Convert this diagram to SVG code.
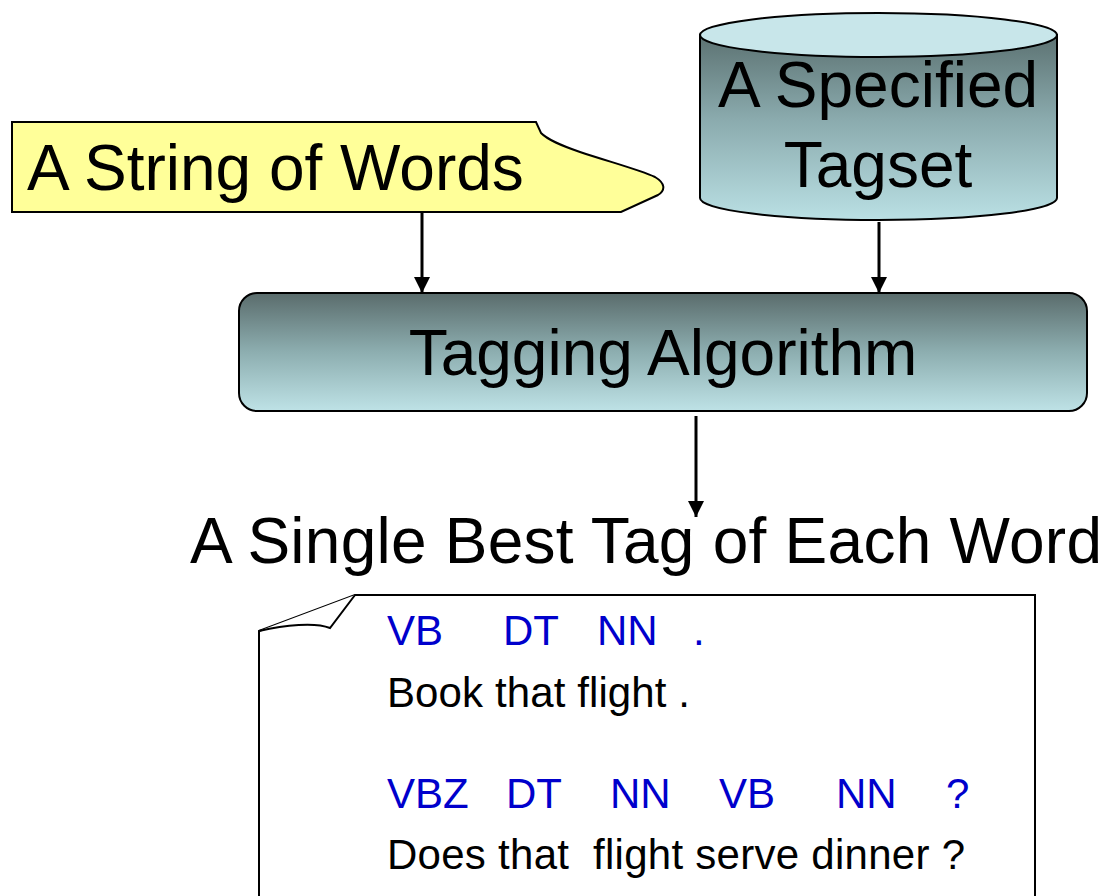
<svg xmlns="http://www.w3.org/2000/svg" width="1106" height="896" viewBox="0 0 1106 896">
<defs>
<linearGradient id="gBody" x1="0" y1="0" x2="0" y2="1">
<stop offset="0" stop-color="#5C7272"/>
<stop offset="0.45" stop-color="#8AAAAD"/>
<stop offset="1" stop-color="#BAE0E4"/>
</linearGradient>
<linearGradient id="gBox" x1="0" y1="0" x2="0" y2="1">
<stop offset="0" stop-color="#5A6C6C"/>
<stop offset="0.5" stop-color="#8DAEB0"/>
<stop offset="1" stop-color="#BEE2E6"/>
</linearGradient>
<marker id="arr" markerWidth="16" markerHeight="16" refX="16" refY="8" orient="auto" markerUnits="userSpaceOnUse" viewBox="0 0 16 16">
<path d="M0,0 L16,8 L0,16 Z" fill="#000"/>
</marker>
</defs>
<style>
.big{font-family:"Liberation Sans",Arial,sans-serif;font-size:64px;fill:#000}
.tag{font-family:"Liberation Sans",Arial,sans-serif;font-size:42px;fill:#0000CC}
.txt{font-family:"Liberation Sans",Arial,sans-serif;font-size:42px;fill:#000}
.edge{stroke:#000;stroke-width:3;fill:none}
</style>
<rect width="1106" height="896" fill="#fff"/>
<g id="words">
<path d="M12,122 H536 L541,133 C548,140 560,145 580,152 C610,162 640,170 655,177 C665,183 666,190 658,195 L621,212 H12 Z" fill="#FFFF99" stroke="#000" stroke-width="2"/>
<text class="big" x="27" y="190">A String of Words</text>
</g>
<g id="tagset">
<path d="M700,35 V198 A178.5,22 0 0 0 1057,198 V35 Z" fill="url(#gBody)" stroke="#000" stroke-width="2"/>
<ellipse cx="878.5" cy="35" rx="178.5" ry="22" fill="#C8E6EA" stroke="#000" stroke-width="2"/>
<text class="big" x="878" y="107" text-anchor="middle">A Specified</text>
<text class="big" x="878" y="187" text-anchor="middle">Tagset</text>
</g>
<g id="algorithm">
<rect x="239" y="293" width="848" height="118" rx="18" fill="url(#gBox)" stroke="#000" stroke-width="2"/>
<text class="big" x="663" y="375" text-anchor="middle">Tagging Algorithm</text>
</g>
<g id="output">
<text class="big" x="190" y="563" textLength="912">A Single Best Tag of Each Word</text>
</g>
<g id="document">
<path d="M259,896 V631 L355,595 H1035 V896" fill="#fff" stroke="#000" stroke-width="2"/>
<path d="M259,631 C285,625 315,622 330,628 L355,595" fill="#fff" stroke="#000" stroke-width="2"/>
<text class="tag" y="645"><tspan x="387">VB</tspan><tspan x="503">DT</tspan><tspan x="597">NN</tspan><tspan x="693">.</tspan></text>
<text class="txt" x="387" y="707" textLength="303">Book that flight .</text>
<text class="tag" y="808"><tspan x="387">VBZ</tspan><tspan x="506">DT</tspan><tspan x="610">NN</tspan><tspan x="719">VB</tspan><tspan x="836">NN</tspan><tspan x="946">?</tspan></text>
<text class="txt" x="387" y="869" xml:space="preserve" textLength="578">Does that  flight serve dinner ?</text>
</g>
<g id="connectors">
<line class="edge" x1="422" y1="212" x2="422" y2="293" marker-end="url(#arr)"/>
<line class="edge" x1="879" y1="222" x2="879" y2="293" marker-end="url(#arr)"/>
<line class="edge" x1="696" y1="416" x2="696" y2="517" marker-end="url(#arr)"/>
</g>
</svg>
